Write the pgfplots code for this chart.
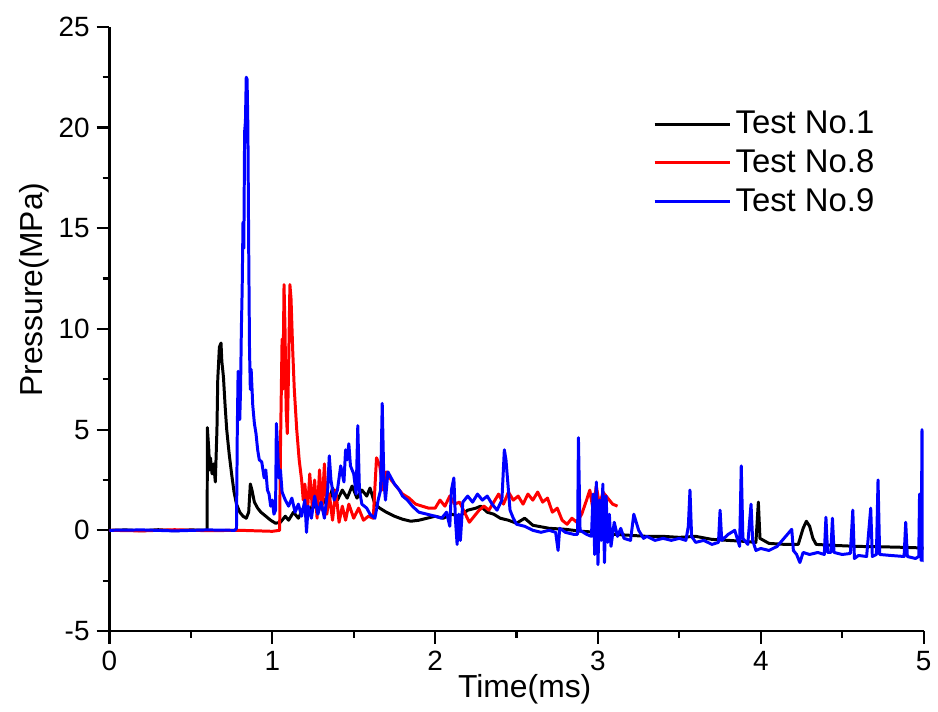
\documentclass[border=0pt]{standalone}
\usepackage{fontspec}
\setmainfont{Liberation Sans}
\usepackage{pgfplots}
\pgfplotsset{compat=1.18}
\begin{document}
\begin{tikzpicture}
\begin{axis}[
  scale only axis, width=409pt, height=303.5pt,
  xmin=0, xmax=5, ymin=-5, ymax=25,
  axis x line*=bottom, axis y line*=left,
  axis line style={line width=1.1pt},
  xtick={0,1,2,3,4,5}, ytick={-5,0,5,10,15,20,25},
  minor x tick num=1, minor y tick num=1,
  tick align=outside,
  major tick length=6.5pt, minor tick length=3.5pt,
  every tick/.style={line width=1.1pt, black},
  /pgf/number format/assume math mode=true,
  ticklabel style={font=\fontsize{14}{16}\selectfont},
  xlabel={Time(ms)}, ylabel={Pressure(MPa)},
  label style={font=\fontsize{16}{19}\selectfont},
  xlabel style={at={(ticklabel cs:0.51)}, yshift=5pt},
  ylabel style={at={(ticklabel cs:0.565)}, yshift=-2pt},
  legend style={at={(0.66,0.874)}, anchor=north west, draw=none, fill=none,
    font=\fontsize{16.5}{18}\selectfont, row sep=2.5pt},
  legend cell align=left,
  legend image code/.code={\draw[#1, line width=1.4pt] (0pt,0pt) -- (38pt,0pt);},
  every axis plot/.append style={line width=1.5pt, line join=round},
]
\addplot[black] coordinates {
(0,0)(0.1,0.02)(0.2,-0.02)(0.3,0.03)(0.4,-0.02)(0.5,0.02)(0.6,0.0)
(0.601,5.1)(0.61,4.0)(0.615,3.0)(0.62,3.6)(0.63,2.8)(0.64,3.3)(0.65,2.4)(0.66,5.0)(0.665,7.5)(0.675,9.1)(0.685,9.3)(0.69,8.4)(0.7,7.6)(0.71,6.2)(0.72,5.0)(0.735,3.8)(0.75,2.8)(0.765,1.9)(0.78,1.3)(0.8,0.9)(0.82,0.7)(0.84,0.6)(0.855,0.9)(0.865,2.3)(0.875,2.0)(0.89,1.4)(0.91,1.1)(0.93,0.9)(0.96,0.7)(0.99,0.5)(1.02,0.35)(1.05,0.4)(1.08,0.7)(1.1,0.5)(1.13,0.9)(1.16,0.6)(1.19,1.1)(1.22,0.8)(1.25,1.3)(1.28,1.0)(1.31,1.6)(1.34,1.2)(1.37,2.1)(1.4,1.5)(1.43,2.0)(1.46,1.6)(1.49,2.2)(1.52,1.6)(1.55,2.0)(1.58,1.7)(1.6,2.1)(1.63,1.3)(1.66,1.1)(1.7,0.9)(1.75,0.7)(1.8,0.55)(1.85,0.45)(1.9,0.5)(1.95,0.6)(2.0,0.7)(2.05,0.6)(2.1,0.8)(2.15,0.7)(2.2,1.0)(2.25,1.1)(2.28,1.2)(2.32,0.9)(2.36,0.8)(2.4,0.6)(2.45,0.5)(2.5,0.35)(2.55,0.6)(2.6,0.25)(2.7,0.1)(2.8,0.05)(2.9,-0.05)(3.0,-0.1)(3.1,-0.2)(3.2,-0.25)(3.3,-0.3)(3.4,-0.3)(3.5,-0.35)(3.6,-0.3)(3.7,-0.45)(3.8,-0.5)(3.9,-0.55)(3.97,-0.6)(3.985,1.4)(3.995,-0.4)(4.05,-0.65)(4.15,-0.7)(4.23,-0.7)(4.26,0.1)(4.28,0.45)(4.3,0.2)(4.32,-0.4)(4.34,-0.7)(4.45,-0.75)(4.6,-0.8)(4.75,-0.82)(4.9,-0.85)(5.0,-0.88)
};
\addlegendentry{Test No.1}
\addplot[red] coordinates {
(0,0)(0.2,-0.03)(0.4,0.03)(0.6,-0.02)(0.8,0.0)(1.0,-0.05)(1.045,0.0)(1.05,4.0)(1.06,9.5)(1.065,7.0)(1.072,12.2)(1.078,10.0)(1.085,6.0)(1.092,4.8)(1.1,8.0)(1.108,12.2)(1.115,11.5)(1.125,9.0)(1.135,7.0)(1.15,5.0)(1.165,3.5)(1.18,2.5)(1.19,1.5)(1.2,2.3)(1.215,0.8)(1.23,2.8)(1.245,1.2)(1.26,2.5)(1.275,0.6)(1.29,3.0)(1.305,1.0)(1.32,3.3)(1.335,0.8)(1.35,1.8)(1.37,0.5)(1.39,2.0)(1.41,0.4)(1.43,1.2)(1.45,0.5)(1.47,1.3)(1.5,0.6)(1.53,1.1)(1.56,0.5)(1.59,0.7)(1.62,0.6)(1.64,3.6)(1.66,3.2)(1.68,2.0)(1.7,2.9)(1.73,2.5)(1.76,2.2)(1.8,1.8)(1.84,1.6)(1.88,1.3)(1.92,1.2)(1.96,1.1)(2.0,1.1)(2.03,1.5)(2.06,1.2)(2.09,1.7)(2.12,1.3)(2.15,1.4)(2.18,0.9)(2.21,0.4)(2.24,0.7)(2.27,1.0)(2.3,1.2)(2.33,1.0)(2.36,1.4)(2.39,1.8)(2.42,1.3)(2.45,1.9)(2.48,1.5)(2.51,1.7)(2.54,1.3)(2.57,1.8)(2.6,1.5)(2.63,1.9)(2.66,1.4)(2.69,1.6)(2.72,0.9)(2.75,1.1)(2.78,0.5)(2.81,0.3)(2.84,0.6)(2.87,0.4)(2.9,0.8)(2.93,1.5)(2.95,2.0)(2.97,1.0)(2.99,2.2)(3.01,1.2)(3.03,1.9)(3.06,1.6)(3.09,1.3)(3.12,1.2)
};
\addlegendentry{Test No.8}
\addplot[blue] coordinates {
(0,0)(0.2,0.02)(0.4,-0.03)(0.6,0.02)(0.77,0.0)(0.78,0.1)(0.785,5.0)(0.79,7.9)(0.795,6.5)(0.8,5.5)(0.805,7.0)(0.81,10.0)(0.815,12.0)(0.82,15.3)(0.825,14.0)(0.83,19.8)(0.835,20.3)(0.84,22.5)(0.845,22.4)(0.85,20.0)(0.855,14.0)(0.86,9.0)(0.865,7.0)(0.87,8.0)(0.88,6.2)(0.89,5.3)(0.9,4.8)(0.91,4.0)(0.92,3.5)(0.935,3.4)(0.95,2.6)(0.96,3.0)(0.97,2.0)(0.98,1.8)(0.99,1.2)(1.0,1.5)(1.01,0.8)(1.02,1.0)(1.025,5.3)(1.03,4.5)(1.04,2.6)(1.05,3.0)(1.06,1.9)(1.08,1.5)(1.1,1.2)(1.12,1.6)(1.14,0.9)(1.16,1.3)(1.18,0.7)(1.2,1.5)(1.21,-0.1)(1.22,1.2)(1.24,0.6)(1.26,1.7)(1.28,0.8)(1.3,1.4)(1.32,0.6)(1.34,2.0)(1.35,3.7)(1.36,2.5)(1.38,1.5)(1.4,2.0)(1.42,3.2)(1.44,2.4)(1.45,4.0)(1.46,3.5)(1.47,4.3)(1.48,3.2)(1.5,2.8)(1.515,1.8)(1.525,5.2)(1.535,2.0)(1.55,1.3)(1.58,1.1)(1.6,0.8)(1.63,0.6)(1.65,1.5)(1.665,2.0)(1.675,6.3)(1.685,2.5)(1.695,1.5)(1.71,2.9)(1.73,2.6)(1.75,2.3)(1.78,2.0)(1.8,1.7)(1.83,1.5)(1.86,1.2)(1.9,0.9)(1.95,0.8)(2.0,0.7)(2.04,0.6)(2.07,0.9)(2.09,0.2)(2.1,2.0)(2.115,2.6)(2.125,0.5)(2.135,-0.7)(2.145,0.8)(2.155,-0.5)(2.17,1.4)(2.2,1.7)(2.23,1.4)(2.26,1.8)(2.29,1.5)(2.32,1.7)(2.35,1.3)(2.38,1.0)(2.41,1.5)(2.425,4.0)(2.435,3.5)(2.445,2.5)(2.46,1.0)(2.48,0.6)(2.5,0.3)(2.55,0.2)(2.6,0.0)(2.65,-0.1)(2.7,0.0)(2.74,-0.1)(2.755,-1.0)(2.765,0.1)(2.8,-0.1)(2.85,-0.2)(2.875,-0.2)(2.88,4.6)(2.89,0.0)(2.93,-0.2)(2.96,-0.3)(2.97,1.8)(2.98,-1.2)(2.99,2.4)(3.0,-1.7)(3.01,1.5)(3.02,-0.5)(3.03,2.3)(3.04,-1.6)(3.05,1.7)(3.06,-0.6)(3.07,0.8)(3.08,-0.8)(3.1,0.4)(3.12,-0.3)(3.14,0.1)(3.16,-0.4)(3.2,-0.5)(3.22,0.8)(3.25,0.0)(3.28,-0.4)(3.3,-0.3)(3.35,-0.5)(3.4,-0.4)(3.45,-0.5)(3.5,-0.4)(3.54,-0.5)(3.555,0.2)(3.565,2.0)(3.575,-0.3)(3.6,-0.6)(3.65,-0.5)(3.7,-0.7)(3.74,-0.6)(3.75,1.0)(3.76,-0.5)(3.8,-0.2)(3.84,0.0)(3.87,-0.8)(3.88,3.2)(3.89,-0.4)(3.92,-0.7)(3.94,1.3)(3.95,-0.5)(3.97,-1.0)(4.0,-0.9)(4.05,-1.0)(4.1,-0.8)(4.19,0.05)(4.2,-1.0)(4.22,-1.2)(4.24,-1.6)(4.26,-1.1)(4.3,-1.2)(4.35,-1.1)(4.39,-1.2)(4.4,0.65)(4.41,-1.1)(4.43,-1.1)(4.44,0.6)(4.45,-1.1)(4.5,-1.2)(4.55,-1.15)(4.565,1.0)(4.575,-1.4)(4.6,-1.25)(4.65,-1.3)(4.675,1.1)(4.685,-1.3)(4.71,-1.2)(4.72,2.5)(4.73,-1.2)(4.8,-1.25)(4.88,-1.3)(4.89,0.4)(4.9,-1.3)(4.95,-1.4)(4.97,-1.3)(4.975,1.8)(4.985,-1.5)(4.99,5.0)(4.995,-1.5)(5.0,-1.5)
};
\addlegendentry{Test No.9}
\end{axis}
\path ([xshift=-55pt,yshift=-40.5pt]current axis.south west) rectangle ([xshift=5pt,yshift=13.5pt]current axis.north east);
\end{tikzpicture}
\end{document}
